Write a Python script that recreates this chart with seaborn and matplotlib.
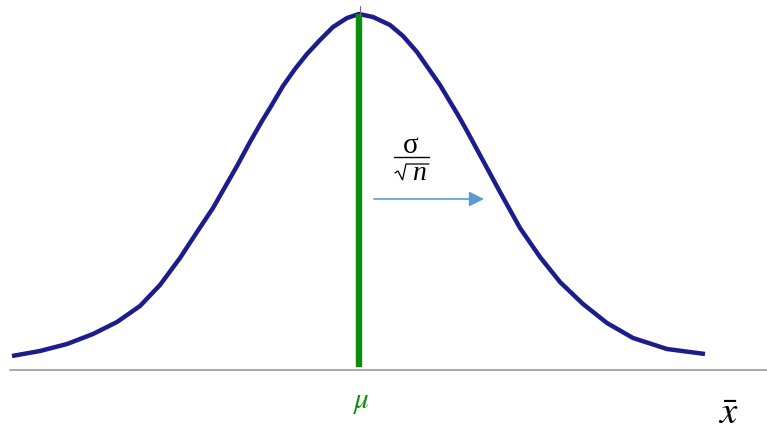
import numpy as np
import pandas as pd
import matplotlib
matplotlib.use("Agg")
import matplotlib.pyplot as plt
import seaborn as sns

# curve (x position, height above baseline)
x_vals = [12, 40, 67, 93, 117, 140, 160, 180, 197, 213, 237, 250, 262, 270, 283,
          295, 307, 320, 333, 347, 359, 373, 390, 403, 417, 440, 458, 467, 487,
          500, 520, 540, 560, 583, 607, 633, 667, 705]
density = [0, 5, 12, 22, 34, 50, 71, 98, 124, 148, 190, 214, 235, 248, 270,
           287, 302, 316, 329, 338, 342, 339, 331, 320, 304, 271, 241, 225, 188,
           164, 128, 99, 74, 52, 33, 18, 7, 2]

mu_x = 359
mu_label = r"$\mu$"
axis_label = r"$\bar{x}$"

df = pd.DataFrame({"x": x_vals, "density": density})

sns.set_style("white")
plt.rcParams["mathtext.fontset"] = "stix"

fig = plt.figure(figsize=(7.67, 4.31), dpi=100)
ax = fig.add_axes([0, 0, 1, 1])

sns.lineplot(data=df, x="x", y="density", ax=ax, color="#1c1c8c", linewidth=3.2,
             solid_capstyle="butt", solid_joinstyle="round")

# horizontal axis line
ax.plot([10, 767], [-14, -14], color="#999999", linewidth=1.2)

# mean line
ax.plot([mu_x, mu_x], [-11, max(density)], color="#0a8f0a", linewidth=4.6,
        solid_capstyle="butt")
ax.plot([mu_x + 1, mu_x + 1], [max(density), max(density) + 8], color="#8a5a8a",
        linewidth=0.8)

# standard error arrow
ax.annotate("", xy=(484, 157), xytext=(374, 157),
            arrowprops=dict(arrowstyle="-|>,head_length=0.9,head_width=0.45",
                            color="#5b9bd5", lw=1.2, shrinkA=0, shrinkB=0))

# sigma / sqrt(n) label, built from pieces
ax.text(411, 204, "σ", family="Liberation Serif", fontsize=21, ha="center",
        va="baseline", color="black")
ax.plot([394, 429], [199, 199], color="black", linewidth=1.0)
ax.plot([395, 398, 402.5, 406, 429], [183, 185, 176, 192, 192], color="black",
        linewidth=0.9, solid_joinstyle="miter")
ax.text(419, 177, "n", family="Liberation Serif", style="italic", fontsize=20,
        ha="center", va="baseline", color="black")

ax.text(362, -45, mu_label, fontsize=21, color="#0a8f0a", ha="center", va="center")
ax.text(728, -56, axis_label, fontsize=28, color="black", ha="center", va="center")

ax.set_xlim(0, 767)
ax.set_ylim(-74, 357)
ax.axis("off")

fig.savefig("out.png", dpi=100)
